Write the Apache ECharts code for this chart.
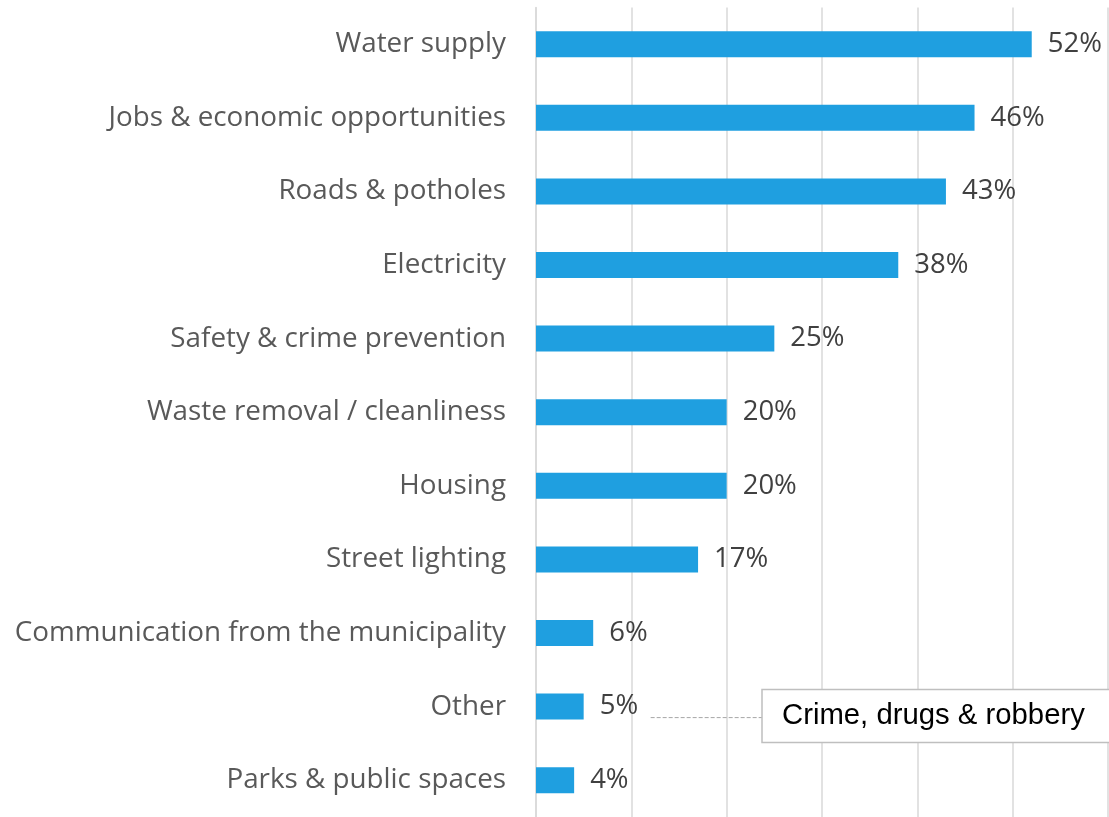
<!DOCTYPE html>
<html>
<head>
<meta charset="utf-8">
<style>
  html, body { margin: 0; padding: 0; background: #ffffff; }
  #chart { width: 1109px; height: 817px; }
</style>
<script src="https://cdn.jsdelivr.net/npm/echarts@6/dist/echarts.min.js"></script>
</head>
<body>
<div id="chart"></div>
<script>
// Service priorities, top to bottom
const categories = [
  'Water supply',
  'Jobs & economic opportunities',
  'Roads & potholes',
  'Electricity',
  'Safety & crime prevention',
  'Waste removal / cleanliness',
  'Housing',
  'Street lighting',
  'Communication from the municipality',
  'Other',
  'Parks & public spaces'
];
const shares = [52, 46, 43, 38, 25, 20, 20, 17, 6, 5, 4];
const xTicks = [0, 10, 20, 30, 40, 50, 60];
const otherNote = 'Crime, drugs & robbery';

const chart = echarts.init(document.getElementById('chart'));

chart.setOption({
  animation: false,
  grid: { left: 536, right: 1, top: 7.4, bottom: -3, containLabel: false },
  xAxis: {
    type: 'value',
    min: xTicks[0],
    max: xTicks[xTicks.length - 1],
    interval: 10,
    axisLine: { show: false },
    axisTick: { show: false },
    axisLabel: { show: false },
    splitLine: { show: true, lineStyle: { color: '#d9d9d9', width: 1.5 } }
  },
  yAxis: {
    type: 'category',
    data: categories,
    inverse: true,
    axisLine: { show: true, lineStyle: { color: '#d9d9d9', width: 1.5 } },
    axisTick: { show: false },
    axisLabel: {
      margin: 30,
      color: '#595959',
      fontSize: 27.8,
      fontFamily: 'Open Sans'
    }
  },
  series: [{
    type: 'bar',
    data: shares,
    barWidth: 26,
    itemStyle: { color: '#1f9fe0' },
    label: {
      show: true,
      position: 'right',
      distance: 16,
      formatter: p => p.value + '%',
      color: '#404040',
      fontSize: 27.5,
      fontFamily: 'Open Sans'
    }
  }]
});

// Callout for the "Other" category
function drawCallout() {
  const idx = categories.indexOf('Other');
  const anchor = chart.convertToPixel({ gridIndex: 0 }, [shares[idx], categories[idx]]);
  const lineStart = anchor[0] + 67;
  const boxLeft = 762;
  const boxTop = anchor[1] - 17;
  chart.setOption({
    graphic: [
      {
        type: 'line',
        shape: { x1: lineStart, y1: anchor[1] + 11, x2: boxLeft, y2: anchor[1] + 11 },
        style: { stroke: '#a6a6a6', lineWidth: 1, lineDash: [4, 2] },
        z: 10
      },
      {
        type: 'rect',
        shape: { x: boxLeft, y: boxTop, width: 360, height: 53 },
        style: { fill: '#ffffff', stroke: '#bfbfbf', lineWidth: 1.5 },
        z: 10
      },
      {
        type: 'text',
        x: boxLeft + 20,
        y: boxTop + 26,
        style: {
          text: otherNote,
          fill: '#000000',
          font: '29.3px "Liberation Sans", Arial, sans-serif',
          verticalAlign: 'middle'
        },
        z: 11
      }
    ]
  });
}
drawCallout();
</script>
</body>
</html>
